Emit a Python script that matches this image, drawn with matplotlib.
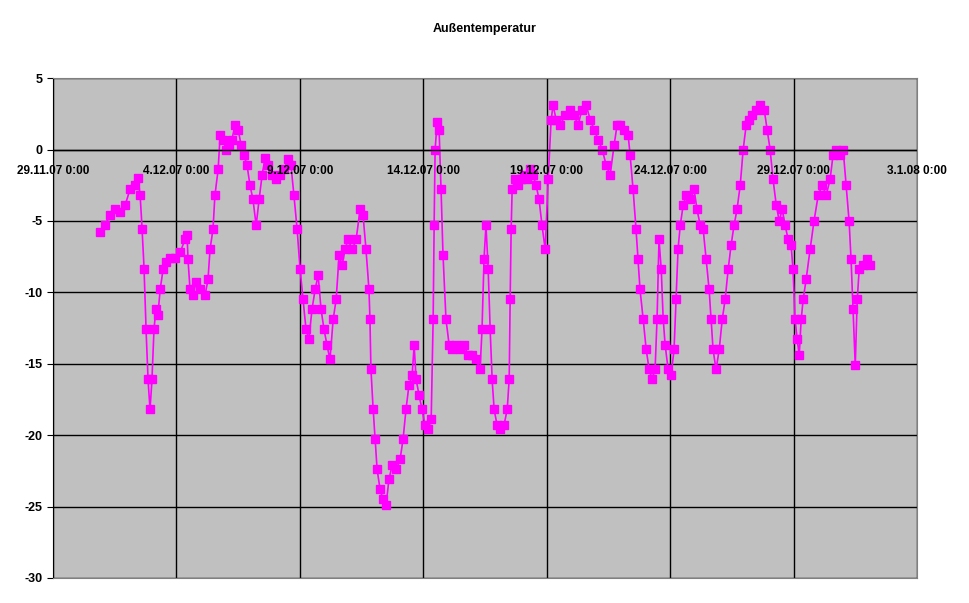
import matplotlib.pyplot as plt
from matplotlib.transforms import offset_copy

# Tage seit 29.11.07 0:00 und Temperatur in °C
tage = [1.90, 2.11, 2.31, 2.51, 2.71, 2.92, 3.12, 3.32, 3.44, 3.53, 3.61, 3.69, 3.77, 3.85, 3.93, 4.01, 4.09, 4.17, 4.25, 4.34,
        4.46, 4.58, 4.74, 4.94, 5.15, 5.35, 5.43, 5.47, 5.55, 5.67, 5.79, 5.96, 6.16, 6.28, 6.36, 6.48, 6.56, 6.69, 6.77, 6.89,
        7.01, 7.13, 7.25, 7.37, 7.50, 7.62, 7.74, 7.86, 7.98, 8.10, 8.23, 8.35, 8.47, 8.59, 8.71, 8.87, 9.04, 9.20, 9.36, 9.52,
        9.64, 9.76, 9.89, 10.01, 10.13, 10.25, 10.37, 10.49, 10.62, 10.74, 10.86, 10.98, 11.10, 11.22, 11.35, 11.47, 11.59, 11.71,
        11.83, 11.95, 12.12, 12.28, 12.44, 12.56, 12.68, 12.80, 12.84, 12.88, 12.97, 13.05, 13.13, 13.25, 13.37, 13.49, 13.61,
        13.74, 13.90, 14.06, 14.18, 14.30, 14.42, 14.55, 14.63, 14.71, 14.83, 14.95, 15.07, 15.19, 15.32, 15.40, 15.44, 15.48,
        15.56, 15.64, 15.72, 15.80, 15.92, 16.05, 16.17, 16.33, 16.49, 16.65, 16.82, 16.98, 17.14, 17.30, 17.38, 17.46, 17.54,
        17.63, 17.71, 17.79, 17.87, 17.99, 18.11, 18.27, 18.40, 18.48, 18.52, 18.56, 18.60, 18.72, 18.84, 18.96, 19.08, 19.21,
        19.33, 19.45, 19.57, 19.69, 19.81, 19.94, 20.06, 20.18, 20.26, 20.38, 20.54, 20.75, 20.95, 21.11, 21.27, 21.43, 21.60,
        21.76, 21.92, 22.08, 22.25, 22.41, 22.57, 22.73, 22.85, 22.97, 23.14, 23.30, 23.38, 23.50, 23.62, 23.70, 23.78, 23.91,
        24.03, 24.15, 24.27, 24.39, 24.47, 24.55, 24.64, 24.72, 24.80, 24.92, 25.04, 25.16, 25.24, 25.32, 25.41, 25.53, 25.65,
        25.81, 25.97, 26.09, 26.22, 26.34, 26.46, 26.58, 26.66, 26.74, 26.86, 26.99, 27.11, 27.23, 27.35, 27.47, 27.59, 27.71,
        27.84, 27.96, 28.08, 28.20, 28.32, 28.48, 28.65, 28.81, 28.93, 29.05, 29.17, 29.30, 29.42, 29.54, 29.66, 29.78, 29.90,
        29.98, 30.06, 30.15, 30.23, 30.31, 30.39, 30.51, 30.67, 30.83, 31.00, 31.16, 31.32, 31.48, 31.60, 31.73, 31.89, 32.01,
        32.13, 32.25, 32.33, 32.41, 32.50, 32.58, 32.66, 32.82, 32.98, 33.10]

temperatur = [-5.8, -5.3, -4.6, -4.2, -4.4, -3.9, -2.8, -2.5, -2.0, -3.2, -5.6, -8.4, -12.6, -16.1, -18.2, -16.1, -12.6, -11.2, -11.6, -9.8,
              -8.4, -7.9, -7.6, -7.6, -7.2, -6.3, -6.0, -7.7, -9.8, -10.2, -9.3, -9.8, -10.2, -9.1, -7.0, -5.6, -3.2, -1.4, 1.0, 0.7,
              0.0, 0.3, 0.7, 1.7, 1.4, 0.3, -0.4, -1.1, -2.5, -3.5, -5.3, -3.5, -1.8, -0.6, -1.1, -1.8, -2.1, -1.8, -1.4, -0.7,
              -1.1, -3.2, -5.6, -8.4, -10.5, -12.6, -13.3, -11.2, -9.8, -8.8, -11.2, -12.6, -13.7, -14.7, -11.9, -10.5, -7.4, -8.1,
              -7.0, -6.3, -7.0, -6.3, -4.2, -4.6, -7.0, -9.8, -11.9, -15.4, -18.2, -20.3, -22.4, -23.8, -24.5, -24.9, -23.1,
              -22.1, -22.4, -21.7, -20.3, -18.2, -16.5, -15.8, -13.7, -16.1, -17.2, -18.2, -19.3, -19.6, -18.9, -11.9, -5.3, 0.0,
              1.9, 1.4, -2.8, -7.4, -11.9, -13.7, -14.0, -13.7, -14.0, -13.7, -14.4, -14.4, -14.7, -15.4, -12.6, -7.7, -5.3,
              -8.4, -12.6, -16.1, -18.2, -19.3, -19.6, -19.3, -18.2, -16.1, -10.5, -5.6, -2.8, -2.1, -2.5, -2.1, -1.8, -2.1,
              -1.4, -1.8, -2.5, -3.5, -5.3, -7.0, -2.1, 2.1, 3.1, 2.1, 1.7, 2.4, 2.8, 2.4, 1.7, 2.8, 3.1,
              2.1, 1.4, 0.7, 0.0, -1.1, -1.8, 0.3, 1.7, 1.7, 1.4, 1.0, -0.4, -2.8, -5.6, -7.7, -9.8, -11.9,
              -14.0, -15.4, -16.1, -15.4, -11.9, -6.3, -8.4, -11.9, -13.7, -15.4, -15.8, -14.0, -10.5, -7.0, -5.3, -3.9, -3.2,
              -3.5, -2.8, -4.2, -5.3, -5.6, -7.7, -9.8, -11.9, -14.0, -15.4, -14.0, -11.9, -10.5, -8.4, -6.7, -5.3, -4.2,
              -2.5, 0.0, 1.7, 2.1, 2.4, 2.8, 3.1, 2.8, 1.4, 0.0, -2.1, -3.9, -5.0, -4.2, -5.3, -6.3, -6.7,
              -8.4, -11.9, -13.3, -14.4, -11.9, -10.5, -9.1, -7.0, -5.0, -3.2, -2.5, -3.2, -2.1, -0.4, 0.0, -0.4, 0.0,
              -2.5, -5.0, -7.7, -11.2, -15.1, -10.5, -8.4, -8.1, -7.7, -8.1]

tick_tage = [0, 5, 10, 15, 20, 25, 30, 35]
tick_texte = ['29.11.07 0:00', '4.12.07 0:00', '9.12.07 0:00', '14.12.07 0:00',
              '19.12.07 0:00', '24.12.07 0:00', '29.12.07 0:00', '3.1.08 0:00']
y_ticks = [5, 0, -5, -10, -15, -20, -25, -30]

plt.rcParams['font.family'] = 'Liberation Sans'
fig = plt.figure(figsize=(9.69, 6.03), dpi=100)
ax = fig.add_axes([0.0547, 0.0415, 0.8916, 0.829])
ax.set_facecolor('#C0C0C0')

ax.plot(tage, temperatur, color='#FF00FF', linewidth=1.2, marker='s', markersize=6)

ax.set_xlim(0, 35)
ax.set_ylim(-30, 5)
ax.set_yticks(y_ticks)
ax.set_yticklabels([str(v) for v in y_ticks], fontsize=9, fontweight='bold')
ax.set_xticks(tick_tage)
ax.set_xticklabels([])
ax.tick_params(axis='x', length=0)
ax.tick_params(axis='y', length=4, direction='out')
ax.grid(True, color='black', linewidth=1)
ax.set_axisbelow(True)
for s in ax.spines.values():
    s.set_color('#808080')
ax.spines['left'].set_color('black')
ax.axhline(0, color='black', linewidth=1)

trans = offset_copy(ax.transData, fig=fig, x=0, y=-21, units='dots')
for t, txt in zip(tick_tage, tick_texte):
    ax.text(t, 0, txt, transform=trans, ha='center', va='center', fontsize=8.5,
            fontweight='bold', clip_on=False)

fig.suptitle('Außentemperatur', y=0.962, fontsize=9, fontweight='bold')

plt.savefig('out.png', dpi=100)
